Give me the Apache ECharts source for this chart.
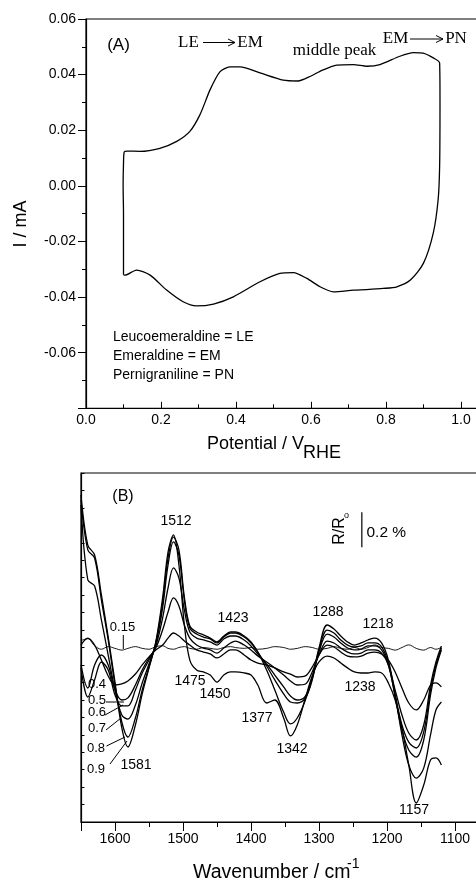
<!DOCTYPE html>
<html>
<head>
<meta charset="utf-8">
<script src="https://cdn.jsdelivr.net/npm/echarts/dist/echarts.min.js"></script>
<style>
html, body { margin: 0; padding: 0; background: #fff; }
#chart { width: 476px; height: 882px; }
</style>
</head>
<body>
<div id="chart"></div>
<script>
// (A) cyclic voltammogram, potential in V vs RHE, current in mA
const cvPotential = [0.100, 0.100, 0.099, 0.100, 0.102, 0.110, 0.144, 0.197, 0.242, 0.277,
  0.304, 0.331, 0.357, 0.384, 0.411, 0.464, 0.526, 0.565, 0.600, 0.624,
  0.669, 0.713, 0.749, 0.784, 0.837, 0.873, 0.899, 0.926, 0.943, 0.944,
  0.943, 0.939, 0.926, 0.900, 0.865, 0.829, 0.793, 0.748, 0.713, 0.660,
  0.624, 0.589, 0.553, 0.517, 0.464, 0.393, 0.340, 0.295, 0.259, 0.215,
  0.171, 0.135, 0.104, 0.100];
const cvCurrent = [-0.0320, -0.0100, 0.0000, 0.0080, 0.0122, 0.0125, 0.0124, 0.0135, 0.0160, 0.0196,
  0.0256, 0.0346, 0.0410, 0.0428, 0.0428, 0.0406, 0.0380, 0.0377, 0.0395, 0.0412,
  0.0434, 0.0436, 0.0430, 0.0436, 0.0466, 0.0479, 0.0477, 0.0460, 0.0442, 0.0300,
  0.0070, -0.0050, -0.0170, -0.0278, -0.0339, -0.0363, -0.0369, -0.0373, -0.0375, -0.0381,
  -0.0363, -0.0333, -0.0312, -0.0315, -0.0345, -0.0399, -0.0425, -0.0432, -0.0417, -0.0375,
  -0.0321, -0.0303, -0.0321, -0.0320];

// (B) difference spectra, R/R0 in units of 0.01 %
const wavenumbers = [1650, 1640, 1630, 1620, 1610, 1600, 1590, 1581, 1570, 1560,
  1550, 1540, 1530, 1522, 1514, 1506, 1498, 1490, 1480, 1470,
  1460, 1450, 1440, 1430, 1423, 1410, 1400, 1390, 1377, 1365,
  1352, 1342, 1332, 1320, 1310, 1300, 1288, 1278, 1268, 1258,
  1248, 1238, 1228, 1218, 1208, 1198, 1188, 1178, 1168, 1157,
  1146, 1136, 1128, 1120];
const potentials = ['0.15', '0.4', '0.5', '0.6', '0.7', '0.8', '0.9'];
const r015 = [4, 5, 1, -1, 0.5, -0.5, -1.5, -0.5, 0.5, -0.5,
  -1, 0.5, 1, -0.5, -1, 0, 0.5, -0.5, -1, 0,
  -0.5, -1, 0, 0.5, 0, -0.5, 0, -1, -0.5, 0.5,
  0, -1, -0.5, 0.5, 0, -1, -0.5, 0.5, -0.5, -1,
  0, -1, 0, 1.5, 0, -0.5, -1.5, 0, 1.5, -0.5,
  -1.5, 0, -1, 0];
const r04 = [1.4, 5.4, 1.4, -7.2, -16.3, -21.5, -20.9, -19.2, -15.2, -10.0,
  -5.4, -1.4, 1.4, 5.4, 8.3, 6.6, 3.7, 1.4, -1.4, -2.6,
  -3.7, -6.0, -3.7, -1.4, -1.4, -4.3, -7.2, -8.9, -10.0, -11.7,
  -14.0, -15.2, -16.9, -16.3, -11.2, -4.3, 1.4, 0.3, -2.6, -4.9,
  -5.4, -4.9, -3.2, -2.6, -3.7, -7.2, -14.0, -23.2, -31.8, -35.8,
  -30.1, -21.5, -20.3, -22.6];
const r05 = [-10.0, -23.2, -10.0, -4.3, -10.0, -24.4, -30.1, -28.9, -21.5, -12.9,
  -6.0, -0.3, 10.0, 20.3, 28.4, 23.8, 12.9, 5.4, 1.4, -0.3,
  -1.4, -3.2, -0.3, 2.6, 3.7, 1.4, -1.4, -4.9, -8.3, -11.7,
  -15.8, -19.2, -21.5, -20.9, -14.0, -4.3, 3.7, 2.6, -0.3, -2.6,
  -3.7, -3.2, -1.4, -1.4, -3.2, -10.0, -24.4, -38.7, -49.0, -53.0,
  -44.4, -21.5, -8.3, 0.9];
const r06 = [-11.7, -28.4, -18.6, -8.3, -12.9, -27.2, -33.5, -33.5, -24.4, -14.6,
  -7.2, 0.9, 16.9, 34.1, 45.6, 39.8, 21.5, 8.9, 5.4, 4.3,
  3.2, 1.4, 4.9, 6.6, 6.6, 4.3, 0.9, -3.7, -9.5, -15.8,
  -22.6, -27.8, -30.1, -27.8, -17.5, -2.6, 7.7, 6.0, 2.6, -0.3,
  -1.4, -0.9, 0.9, 0.9, -1.4, -10.0, -27.2, -44.4, -54.2, -57.6,
  -48.4, -24.4, -10.0, -0.3];
const r07 = [81.7, 38.7, 35.2, 15.8, -4.3, -24.4, -38.7, -41.0, -33.0, -20.3,
  -9.5, 2.0, 22.6, 47.3, 60.5, 53.0, 27.2, 11.2, 7.7, 6.0,
  4.9, 2.6, 6.0, 8.3, 8.3, 6.0, 2.6, -2.6, -10.6, -18.6,
  -26.6, -31.2, -31.8, -28.9, -18.6, -1.4, 10.0, 8.3, 4.3, 1.4,
  0.3, 0.9, 2.6, 2.6, 0.3, -8.9, -28.4, -47.3, -58.7, -62.8,
  -53.0, -27.2, -11.7, -1.4];
const r08 = [84.5, 55.9, 51.3, 27.2, 4.3, -21.5, -42.7, -51.3, -40.4, -24.4,
  -11.2, 2.6, 25.5, 51.3, 63.3, 55.9, 28.9, 12.3, 8.9, 7.2,
  5.4, 3.2, 6.6, 8.9, 8.9, 6.6, 3.2, -2.6, -12.9, -24.4,
  -37.0, -43.8, -40.4, -30.1, -17.5, -0.3, 12.9, 10.6, 6.6, 3.2,
  1.4, 2.6, 4.3, 5.4, 2.6, -7.2, -27.2, -50.1, -67.3, -74.8,
  -69.1, -50.1, -35.8, -31.2];
const r09 = [87.4, 58.7, 53.0, 30.1, 6.0, -19.8, -46.1, -57.0, -44.4, -26.6,
  -11.7, 3.2, 28.4, 54.7, 64.5, 47.3, 12.9, -7.2, -12.9, -14.0,
  -15.8, -19.8, -15.8, -14.0, -14.0, -14.6, -15.8, -21.5, -31.8, -30.1,
  -40.4, -50.7, -44.4, -28.9, -16.3, -8.3, -4.9, -6.0, -8.9, -11.7,
  -14.0, -14.6, -14.6, -14.0, -14.6, -20.3, -30.1, -46.1, -67.3, -89.1,
  -78.8, -64.5, -63.3, -67.3];
const spectra = [r015, r04, r05, r06, r07, r08, r09];

// scale bar: 0.2 % = 20 units
const scaleBarWn = 1237;
const scaleBarValues = [57.5, 77.5];

const SANS = 'Liberation Sans';
const SERIF = 'Liberation Serif';

const chart = echarts.init(document.getElementById('chart'), null, {renderer: 'canvas'});

function txt(s, x, y, size, o) {
    o = o || {};
    return {
        type: 'text', x: x, y: y, z: 100, silent: true,
        rotation: o.rot || 0,
        style: {
            text: s, fontSize: size, fontFamily: o.font || SANS, fill: '#000',
            align: o.align || 'center', verticalAlign: 'middle'
        }
    };
}
function seg(x1, y1, x2, y2, w) {
    return {type: 'line', z: 100, silent: true, shape: {x1: x1, y1: y1, x2: x2, y2: y2},
        style: {stroke: '#000', lineWidth: w || 1}};
}
function arrow(x1, x2, y) {
    return [
        seg(x1, y, x2, y, 1),
        {type: 'polyline', z: 100, silent: true,
         shape: {points: [[x2 - 7, y - 3.5], [x2, y], [x2 - 7, y + 3.5]]},
         style: {stroke: '#000', fill: null, lineWidth: 1}}
    ];
}

const axisLine = {show: true, onZero: false, lineStyle: {color: '#000', width: 1.2}};
const tickStyle = {color: '#000', width: 1};

let series = [{
    type: 'line',
    xAxisIndex: 0, yAxisIndex: 0,
    data: cvPotential.map((e, i) => [e, cvCurrent[i]]),
    showSymbol: false, smooth: 0.25,
    lineStyle: {color: '#000', width: 1.3}
}];
spectra.forEach((vals, k) => {
    series.push({
        name: potentials[k],
        type: 'line',
        xAxisIndex: 1, yAxisIndex: 1,
        data: wavenumbers.map((w, i) => [w, vals[i]]),
        showSymbol: false, smooth: 0.35,
        lineStyle: {color: '#000', width: k === 0 ? 0.9 : 1.3}
    });
});
series.push({
    type: 'line', xAxisIndex: 1, yAxisIndex: 1,
    data: scaleBarValues.map(v => [scaleBarWn, v]),
    showSymbol: false,
    lineStyle: {color: '#000', width: 1.2}
});

let graphics = [
    // panel A
    txt('(A)', 118.5, 45, 17),
    txt('LE', 188.5, 43, 17, {font: SERIF}),
    ...arrow(203, 235, 42.5),
    txt('EM', 250, 43, 17, {font: SERIF}),
    txt('middle peak', 334.5, 51, 17, {font: SERIF}),
    txt('EM', 395.5, 39, 17, {font: SERIF}),
    ...arrow(410, 443, 39),
    txt('PN', 456, 39, 17, {font: SERIF}),
    txt('Leucoemeraldine = LE', 113, 336.7, 14, {align: 'left'}),
    txt('Emeraldine = EM', 113, 356, 14, {align: 'left'}),
    txt('Pernigraniline = PN', 113, 375.5, 14, {align: 'left'}),
    txt('I / mA', 21.5, 224, 18, {rot: Math.PI / 2}),
    txt('Potential / V', 207, 444, 18, {align: 'left'}),
    txt('RHE', 303, 453.5, 18, {align: 'left'}),
    // panel B
    txt('(B)', 123, 497, 16),
    txt('1512', 176, 521, 14),
    txt('1423', 233, 618, 14),
    txt('1288', 328, 612, 14),
    txt('1218', 378, 624, 14),
    txt('1475', 190, 681, 14),
    txt('1450', 215, 694, 14),
    txt('1377', 257, 718, 14),
    txt('1342', 292, 749, 14),
    txt('1238', 360, 687, 14),
    txt('1581', 136, 765, 14),
    txt('1157', 414, 810, 14),
    txt('0.15', 122.5, 627, 13),
    txt('0.4', 97, 684, 13),
    txt('0.5', 97, 700.5, 13),
    txt('0.6', 97, 712.5, 13),
    txt('0.7', 97, 728, 13),
    txt('0.8', 96, 748.5, 13),
    txt('0.9', 96, 769, 13),
    seg(123.3, 635, 123.3, 649),
    seg(106, 702, 124, 702),
    seg(105, 715, 123, 705),
    seg(106, 730, 121, 718),
    seg(106.5, 746, 125, 737),
    seg(110, 764, 127, 741),
    txt('R/R', 340, 531, 16, {rot: Math.PI / 2}),
    txt('o', 346.5, 515.5, 9),
    txt('0.2 %', 366.5, 533, 15.5, {align: 'left'}),
    txt('Wavenumber / cm', 193, 872.5, 19.5, {align: 'left'}),
    txt('-1', 347, 864, 14, {align: 'left'})
];

chart.setOption({
    animation: false,
    backgroundColor: '#fff',
    grid: [
        {left: 86, top: 19, width: 412.5, height: 389.3, show: true,
         borderColor: '#000', borderWidth: 1.2, containLabel: false, outerBoundsMode: 'none'},
        {left: 81, top: 473, width: 442, height: 349, show: true,
         borderColor: '#000', borderWidth: 1.2, containLabel: false, outerBoundsMode: 'none'}
    ],
    xAxis: [{
        gridIndex: 0, type: 'value', min: 0, max: 1.1, interval: 0.2,
        axisLine: axisLine,
        axisTick: {inside: true, length: 6.5, lineStyle: tickStyle},
        minorTick: {show: true, splitNumber: 2, length: 4, lineStyle: tickStyle},
        splitLine: {show: false},
        axisLabel: {color: '#000', fontSize: 14, fontFamily: SANS, margin: 5,
            formatter: v => v.toFixed(1)}
    }, {
        gridIndex: 1, type: 'value', inverse: true, min: 1000, max: 1650, interval: 100,
        axisLine: axisLine,
        axisTick: {inside: false, length: 9, lineStyle: tickStyle},
        minorTick: {show: true, splitNumber: 2, length: 5, lineStyle: tickStyle},
        splitLine: {show: false},
        axisLabel: {color: '#000', fontSize: 14, fontFamily: SANS, margin: 10,
            showMaxLabel: false, formatter: v => String(v)}
    }],
    yAxis: [{
        gridIndex: 0, type: 'value', min: -0.08, max: 0.06, interval: 0.02,
        axisLine: axisLine,
        axisTick: {inside: false, length: 8, lineStyle: tickStyle},
        minorTick: {show: true, splitNumber: 2, length: 4, lineStyle: tickStyle},
        splitLine: {show: false},
        axisLabel: {color: '#000', fontSize: 14, fontFamily: SANS, margin: 10,
            showMinLabel: false, formatter: v => v.toFixed(2)}
    }, {
        gridIndex: 1, type: 'value', min: -100, max: 100, interval: 10,
        axisLine: axisLine,
        axisTick: {inside: true, length: 3.5, lineStyle: tickStyle},
        splitLine: {show: false},
        axisLabel: {show: false}
    }],
    series: series,
    graphic: graphics
});
</script>
</body>
</html>
